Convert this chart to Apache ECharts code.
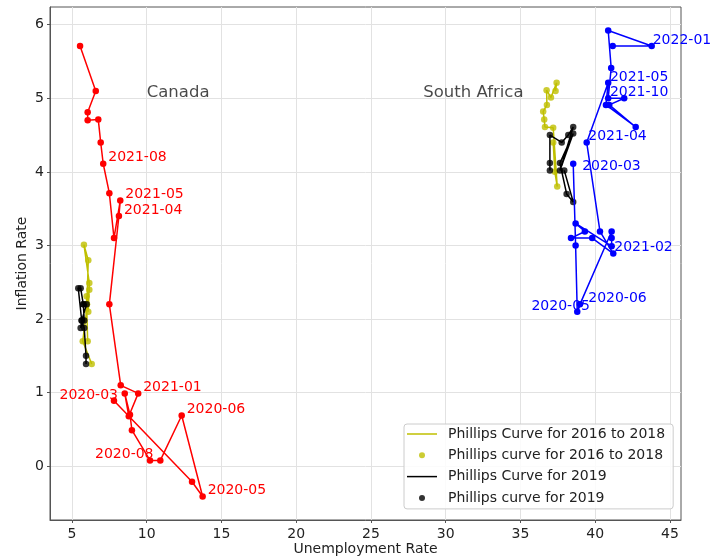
<!DOCTYPE html>
<html><head><meta charset="utf-8">
<script src="https://cdn.jsdelivr.net/npm/echarts@6/dist/echarts.min.js"></script>
<style>html,body{margin:0;padding:0;background:#fff}#c{width:712px;height:559px}</style>
</head><body><div id="c"></div>
<script>
// ---------- data ----------
const canadaMonths = ['2020-03','2020-04','2020-05','2020-06','2020-07','2020-08','2020-09','2020-10','2020-11','2020-12',
  '2021-01','2021-02','2021-03','2021-04','2021-05','2021-06','2021-07','2021-08','2021-09','2021-10','2021-11','2021-12','2022-01','2022-02'];
const canadaUnemployment = [7.81,13.03,13.74,12.34,10.91,10.22,9.01,8.88,8.53,8.80,9.43,8.26,7.50,8.14,8.23,7.81,7.50,7.09,6.92,6.76,6.05,6.05,6.59,5.54];
const canadaInflation    = [0.89,-0.21,-0.41,0.69,0.08,0.08,0.49,0.70,0.99,0.68,0.99,1.10,2.20,3.40,3.61,3.10,3.71,4.11,4.40,4.71,4.70,4.81,5.10,5.71];
const canadaLabelled = ['2020-03','2020-05','2020-06','2020-08','2021-01','2021-04','2021-05','2021-08'];

const saMonths = canadaMonths;
const saUnemployment = [38.53,38.69,38.80,38.98,41.10,41.10,41.10,38.69,39.31,38.38,39.80,41.21,40.32,39.43,40.87,40.72,42.71,40.94,41.94,40.87,41.07,40.87,43.78,41.17];
const saInflation    = [4.11,3.00,2.10,2.20,3.19,3.10,2.99,3.30,3.19,3.10,3.10,2.89,3.19,4.40,5.21,4.91,4.61,4.91,5.00,5.00,5.41,5.92,5.71,5.71];
const saLabelled = ['2020-03','2020-05','2020-06','2021-02','2021-04','2021-05','2021-10','2022-01'];

// 2016 to 2018 points
const canada1618Unemployment = [6.05,5.98,5.98,6.00,6.09,6.16,5.80,6.09,6.00,6.16,5.72,6.32];
const canada1618Inflation    = [1.70,2.20,2.31,2.20,2.10,2.49,3.01,2.80,2.20,2.40,1.70,1.39];
const sa1618Unemployment = [37.19,37.30,37.46,37.19,36.64,36.59,36.52,36.77,36.75,37.04,37.42,37.35];
const sa1618Inflation    = [4.40,4.00,3.80,4.60,4.61,4.71,4.82,4.91,5.11,5.01,5.21,5.10];

// 2019 points
const canada2019Unemployment = [5.94,5.94,5.82,5.65,5.42,5.58,5.76,5.82,5.58,5.65,5.98,5.76];
const canada2019Inflation    = [1.39,1.50,1.88,1.98,2.42,2.42,2.20,1.98,1.88,1.98,2.20,2.20];
const sa2019Unemployment = [36.97,36.97,36.97,37.76,38.20,38.53,37.64,38.53,37.64,38.09,38.53,37.93];
const sa2019Inflation    = [4.02,4.12,4.50,4.40,4.50,4.61,4.02,4.52,4.12,3.70,3.59,4.02];

const regionNames = ['Canada','South Africa'];
const regionX = [10, 28.5];
const regionY = [5, 5];

const xTickValues = [5,10,15,20,25,30,35,40,45];
const yTickValues = [0,1,2,3,4,5,6];

const legendNames = ['Phillips Curve for 2016 to 2018','Phillips curve for 2016 to 2018','Phillips Curve for 2019','Phillips curve for 2019'];

// ---------- styling ----------
const FONT = 'DejaVu Sans';
const YEL = '#bfbf00', BLK = '#000000', RED = '#ff0000', BLU = '#0000ff';
const AX = '#555555';

// label placements (align, dx, dy) in pixels
const placeCanada = {'2020-03':['right',4,-5.5],'2020-08':['right',3.5,-5.7]};
const placeSA = {'2022-01':['left',1,-5.5],'2021-05':['left',1.7,-5.4],'2021-10':['left',1.7,-6],'2021-04':['left',1.6,-5.6],
  '2020-03':['left',9,2.7],'2021-02':['left',1,-6],'2020-06':['left',8.3,-5.7],'2020-05':['right',12.7,-5.7]};

const pairs = (xs, ys) => xs.map((x, i) => [x, ys[i]]);

function labelledData(months, xs, ys, labelled, place, color, defDx) {
  return months.map((m, i) => {
    const item = {value: [xs[i], ys[i]]};
    if (labelled.includes(m)) {
      const p = place[m] || ['left', defDx, -6];
      item.label = {show: true, formatter: m, position: 'inside', align: p[0], verticalAlign: 'middle',
        offset: [p[1], p[2]], color: color, fontSize: 14, fontFamily: FONT};
    }
    return item;
  });
}

const lineSeries = (name, data, color, z) => ({
  type: 'line', name, data, symbol: 'none', lineStyle: {color, width: 1.5}, itemStyle: {color},
  z: z, silent: true, animation: false
});
const dotSeries = (name, data, color, z) => ({
  type: 'scatter', name, data, symbol: 'circle', symbolSize: 6.5, itemStyle: {color}, z, silent: true, animation: false
});

const LINE_ICON = 'path://M0 0M30 14M0 6.25H30V7.75H0Z';
const DOT_ICON = 'path://M0 0M30 14M12 7A3 3 0 1 1 18 7A3 3 0 1 1 12 7Z';

const option = {
  animation: false,
  backgroundColor: '#ffffff',
  textStyle: {fontFamily: FONT},
  grid: {left: 50, right: 31, top: 7, bottom: 39, containLabel: false, outerBoundsMode: 'none',
    show: true, borderColor: AX, borderWidth: 1, backgroundColor: 'transparent'},
  xAxis: {
    type: 'value', min: 3.53, max: 45.74, minInterval: 5, maxInterval: 5,
    name: 'Unemployment Rate', nameLocation: 'middle', nameGap: 22, nameMoveOverlap: false,
    nameTextStyle: {fontSize: 14, color: '#222', fontFamily: FONT},
    axisLine: {show: true, onZero: false, lineStyle: {color: AX, width: 1}},
    axisTick: {show: true, length: 3, lineStyle: {color: AX}, customValues: xTickValues},
    axisLabel: {color: '#222', fontSize: 14, fontFamily: FONT, margin: 7, customValues: xTickValues,
      formatter: v => xTickValues.includes(v) ? String(v) : ''},
    splitLine: {show: true, lineStyle: {color: '#e2e2e2', width: 1}}
  },
  yAxis: {
    type: 'value', min: -0.73, max: 6.24, minInterval: 1, maxInterval: 1,
    name: 'Inflation Rate', nameLocation: 'middle', nameGap: 21, nameMoveOverlap: false,
    nameTextStyle: {fontSize: 14, color: '#222', fontFamily: FONT},
    axisLine: {show: true, onZero: false, lineStyle: {color: AX, width: 1}},
    axisTick: {show: true, length: 3, lineStyle: {color: AX}, customValues: yTickValues},
    axisLabel: {color: '#222', fontSize: 14, fontFamily: FONT, margin: 6, customValues: yTickValues,
      formatter: v => yTickValues.includes(v) ? String(v) : ''},
    splitLine: {show: true, lineStyle: {color: '#e2e2e2', width: 1}}
  },
  legend: {
    orient: 'vertical', left: 404, top: 424, itemWidth: 30, itemHeight: 14, itemGap: 7.3,
    padding: [3, 8, 4, 3], backgroundColor: 'rgba(255,255,255,0.85)', borderColor: '#cccccc', borderWidth: 1, borderRadius: 3,
    textStyle: {fontSize: 14, color: '#222', fontFamily: FONT, padding: [0, 0, 0, 6]},
    itemStyle: {borderWidth: 0},
    selectedMode: false,
    data: [
      {name: legendNames[0], icon: LINE_ICON},
      {name: legendNames[1], icon: DOT_ICON},
      {name: legendNames[2], icon: LINE_ICON},
      {name: legendNames[3], icon: DOT_ICON}
    ]
  },
  series: [
    lineSeries(legendNames[0], pairs(canada1618Unemployment, canada1618Inflation), YEL, 2),
    lineSeries(legendNames[0], pairs(sa1618Unemployment, sa1618Inflation), YEL, 2),
    dotSeries(legendNames[1], pairs(canada1618Unemployment, canada1618Inflation).concat(pairs(sa1618Unemployment, sa1618Inflation)), YEL, 3),
    lineSeries(legendNames[2], pairs(canada2019Unemployment, canada2019Inflation), BLK, 4),
    lineSeries(legendNames[2], pairs(sa2019Unemployment, sa2019Inflation), BLK, 4),
    dotSeries(legendNames[3], pairs(canada2019Unemployment, canada2019Inflation).concat(pairs(sa2019Unemployment, sa2019Inflation)), BLK, 5),
    {
      type: 'line', name: 'Canada 2020-2022', data: labelledData(canadaMonths, canadaUnemployment, canadaInflation, canadaLabelled, placeCanada, RED, 5),
      symbol: 'circle', symbolSize: 6.5, showSymbol: true, showAllSymbol: true,
      lineStyle: {color: RED, width: 1.5}, itemStyle: {color: RED, borderWidth: 0}, z: 6, silent: true, animation: false
    },
    {
      type: 'line', name: 'South Africa 2020-2022', data: labelledData(saMonths, saUnemployment, saInflation, saLabelled, placeSA, BLU, 1.5),
      symbol: 'circle', symbolSize: 6.5, showSymbol: true, showAllSymbol: true,
      lineStyle: {color: BLU, width: 1.5}, itemStyle: {color: BLU, borderWidth: 0}, z: 6, silent: true, animation: false
    },
    {
      type: 'scatter', name: 'regions', symbolSize: 0, silent: true, z: 7,
      data: regionNames.map((n, i) => ({name: n, value: [regionX[i], regionY[i]]})),
      label: {show: true, formatter: p => p.name, position: 'inside', align: 'left', verticalAlign: 'bottom', offset: [0, 3],
        color: '#1a1a1a', fontSize: 16.5, fontFamily: FONT}
    }
  ]
};

const chart = echarts.init(document.getElementById('c'), null, {renderer: 'canvas'});
chart.setOption(option);
</script>
</body></html>
